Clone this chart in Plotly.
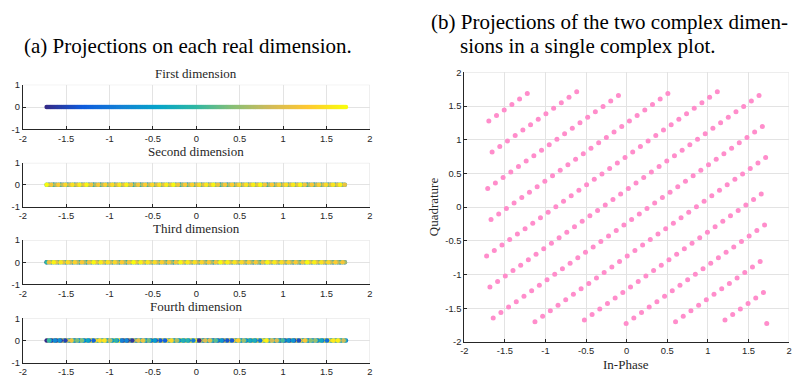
import math
import plotly.graph_objects as go

# ---------------- data (levels of a 256-point uniform grid on [-sqrt3, sqrt3]) -------------
N_LEVELS = 256

IN_PHASE_LEVEL = [
    0, 1, 2, 3, 4, 5, 6, 7, 8, 9, 10, 11, 12, 13, 14, 15,
    16, 17, 18, 19, 20, 21, 22, 23, 24, 25, 26, 27, 28, 29, 30, 31,
    32, 33, 34, 35, 36, 37, 38, 39, 40, 41, 42, 43, 44, 45, 46, 47,
    48, 49, 50, 51, 52, 53, 54, 55, 56, 57, 58, 59, 60, 61, 62, 63,
    64, 65, 66, 67, 68, 69, 70, 71, 72, 73, 74, 75, 76, 77, 78, 79,
    80, 81, 82, 83, 84, 85, 86, 87, 88, 89, 90, 91, 92, 93, 94, 95,
    96, 97, 98, 99, 100, 101, 102, 103, 104, 105, 106, 107, 108, 109, 110, 111,
    112, 113, 114, 115, 116, 117, 118, 119, 120, 121, 122, 123, 124, 125, 126, 127,
    128, 129, 130, 131, 132, 133, 134, 135, 136, 137, 138, 139, 140, 141, 142, 143,
    144, 145, 146, 147, 148, 149, 150, 151, 152, 153, 154, 155, 156, 157, 158, 159,
    160, 161, 162, 163, 164, 165, 166, 167, 168, 169, 170, 171, 172, 173, 174, 175,
    176, 177, 178, 179, 180, 181, 182, 183, 184, 185, 186, 187, 188, 189, 190, 191,
    192, 193, 194, 195, 196, 197, 198, 199, 200, 201, 202, 203, 204, 205, 206, 207,
    208, 209, 210, 211, 212, 213, 214, 215, 216, 217, 218, 219, 220, 221, 222, 223,
    224, 225, 226, 227, 228, 229, 230, 231, 232, 233, 234, 235, 236, 237, 238, 239,
    240, 241, 242, 243, 244, 245, 246, 247, 248, 249, 250, 251, 252, 253, 254, 255,
]

QUADRATURE_LEVEL = [
    74, 148, 222, 40, 114, 188, 6, 80, 154, 228, 46, 120, 194, 12, 86, 160,
    234, 52, 126, 200, 18, 92, 166, 240, 58, 132, 206, 24, 98, 172, 246, 64,
    138, 212, 30, 104, 178, 252, 70, 144, 218, 36, 110, 184, 2, 76, 150, 224,
    42, 116, 190, 8, 82, 156, 230, 48, 122, 196, 14, 88, 162, 236, 54, 128,
    202, 20, 94, 168, 242, 60, 134, 208, 26, 100, 174, 248, 66, 140, 214, 32,
    106, 180, 254, 72, 146, 220, 38, 112, 186, 4, 78, 152, 226, 44, 118, 192,
    10, 84, 158, 232, 50, 124, 198, 16, 90, 164, 238, 56, 130, 204, 22, 96,
    170, 244, 62, 136, 210, 28, 102, 176, 250, 68, 142, 216, 34, 108, 182, 0,
    74, 148, 222, 40, 114, 188, 6, 80, 154, 228, 46, 120, 194, 12, 86, 160,
    234, 52, 126, 200, 18, 92, 166, 240, 58, 132, 206, 24, 98, 172, 246, 64,
    138, 212, 30, 104, 178, 252, 70, 144, 218, 36, 110, 184, 2, 76, 150, 224,
    42, 116, 190, 8, 82, 156, 230, 48, 122, 196, 14, 88, 162, 236, 54, 128,
    202, 20, 94, 168, 242, 60, 134, 208, 26, 100, 174, 248, 66, 140, 214, 32,
    106, 180, 254, 72, 146, 220, 38, 112, 186, 4, 78, 152, 226, 44, 118, 192,
    10, 84, 158, 232, 50, 124, 198, 16, 90, 164, 238, 56, 130, 204, 22, 96,
    170, 244, 62, 136, 210, 28, 102, 176, 250, 68, 142, 216, 34, 108, 182, 0,
]

# third real dimension: same level set as the quadrature, taken in reverse point order
DIM3_LEVEL = QUADRATURE_LEVEL[::-1]

# fourth real dimension (estimated interleaving of the 256 levels)
DIM4_LEVEL = [
    0, 65, 130, 195, 4, 69, 134, 199, 8, 73, 138, 203, 12, 77, 142, 207,
    16, 81, 146, 211, 20, 85, 150, 215, 24, 89, 154, 219, 28, 93, 158, 223,
    32, 97, 162, 227, 36, 101, 166, 231, 40, 105, 170, 235, 44, 109, 174, 239,
    48, 113, 178, 243, 52, 117, 182, 247, 56, 121, 186, 251, 60, 125, 190, 255,
    64, 129, 194, 3, 68, 133, 198, 7, 72, 137, 202, 11, 76, 141, 206, 15,
    80, 145, 210, 19, 84, 149, 214, 23, 88, 153, 218, 27, 92, 157, 222, 31,
    96, 161, 226, 35, 100, 165, 230, 39, 104, 169, 234, 43, 108, 173, 238, 47,
    112, 177, 242, 51, 116, 181, 246, 55, 120, 185, 250, 59, 124, 189, 254, 63,
    128, 193, 2, 67, 132, 197, 6, 71, 136, 201, 10, 75, 140, 205, 14, 79,
    144, 209, 18, 83, 148, 213, 22, 87, 152, 217, 26, 91, 156, 221, 30, 95,
    160, 225, 34, 99, 164, 229, 38, 103, 168, 233, 42, 107, 172, 237, 46, 111,
    176, 241, 50, 115, 180, 245, 54, 119, 184, 249, 58, 123, 188, 253, 62, 127,
    192, 1, 66, 131, 196, 5, 70, 135, 200, 9, 74, 139, 204, 13, 78, 143,
    208, 17, 82, 147, 212, 21, 86, 151, 216, 25, 90, 155, 220, 29, 94, 159,
    224, 33, 98, 163, 228, 37, 102, 167, 232, 41, 106, 171, 236, 45, 110, 175,
    240, 49, 114, 179, 244, 53, 118, 183, 248, 57, 122, 187, 252, 61, 126, 191,
]

POINT_INDEX = IN_PHASE_LEVEL  # colour = point index

SUBPLOT_TITLES = ["First dimension", "Second dimension", "Third dimension", "Fourth dimension"]
X_TICKS = [-2, -1.5, -1, -0.5, 0, 0.5, 1, 1.5, 2]
X_TICK_TEXT = ["-2", "-1.5", "-1", "-0.5", "0", "0.5", "1", "1.5", "2"]
Y_TICKS_SMALL = [-1, 0, 1]
Y_TICK_TEXT_SMALL = ["-1", "0", "1"]
Y_TICKS_BIG = [-2, -1.5, -1, -0.5, 0, 0.5, 1, 1.5, 2]
Y_TICK_TEXT_BIG = ["-2", "-1.5", "-1", "-0.5", "0", "0.5", "1", "1.5", "2"]


def level_to_value(lvl):
    return math.sqrt(3) * (2 * lvl + 1 - N_LEVELS) / N_LEVELS


PARULA = [
    [0.0, "#352a87"], [0.125, "#0f5cdd"], [0.25, "#1481d6"], [0.375, "#06a4ca"],
    [0.5, "#2eb7a4"], [0.625, "#87bf77"], [0.75, "#d1bb59"], [0.875, "#fec832"],
    [1.0, "#f9fb0e"],
]

# drawing order of the points in each real-dimension strip
DRAW_ORDER = [
    list(range(len(IN_PHASE_LEVEL))),
    list(range(len(IN_PHASE_LEVEL))),
    list(range(len(IN_PHASE_LEVEL))),
    sorted(range(len(IN_PHASE_LEVEL)), key=lambda k: QUADRATURE_LEVEL[k]),
]

# ---------------- layout helpers ----------------
W, H = 796, 383


def xdom(a, b):
    return [a / W, b / W]


def ydom(top, bottom):
    return [1 - bottom / H, 1 - top / H]


AX_COL = "#262626"
GRID_COL = "#e3e3e3"
TICK_FONT = dict(family="Liberation Sans, Arial, sans-serif", size=9.4, color=AX_COL)
SERIF = "Liberation Serif, Times New Roman, serif"
MARKER_SIZE = 4.6

fig = go.Figure()

left_rows = [(81, 127), (161.5, 206.7), (241, 286.7), (321.5, 367.3)]
left_x = (19, 369)
dims = [IN_PHASE_LEVEL, QUADRATURE_LEVEL, DIM3_LEVEL, DIM4_LEVEL]

layout = dict(
    width=W, height=H, margin=dict(l=0, r=0, t=0, b=0),
    paper_bgcolor="white", plot_bgcolor="white", showlegend=False,
)
annotations = []
shapes = []

for i, (top, bot) in enumerate(left_rows):
    n = i + 1
    xa = "x" if n == 1 else f"x{n}"
    ya = "y" if n == 1 else f"y{n}"
    order = DRAW_ORDER[i]
    fig.add_trace(go.Scatter(
        x=[level_to_value(dims[i][k]) for k in order],
        y=[0] * len(order),
        mode="markers",
        marker=dict(size=MARKER_SIZE, color=[POINT_INDEX[k] for k in order],
                    colorscale=PARULA, cmin=0, cmax=255, line=dict(width=0)),
        xaxis=xa, yaxis=ya, hoverinfo="skip",
    ))
    layout[f"xaxis{'' if n == 1 else n}"] = dict(
        domain=xdom(*left_x), anchor=ya, range=[-2, 2],
        tickvals=X_TICKS, ticktext=X_TICK_TEXT, tickfont=TICK_FONT,
        showgrid=True, gridcolor=GRID_COL, gridwidth=1, zeroline=False,
        showline=True, linecolor=AX_COL, linewidth=1,
        ticks="inside", ticklen=3, tickcolor=AX_COL, tickwidth=1,
    )
    layout[f"yaxis{'' if n == 1 else n}"] = dict(
        domain=ydom(top, bot), anchor=xa, range=[-1, 1],
        tickvals=Y_TICKS_SMALL, ticktext=Y_TICK_TEXT_SMALL, tickfont=TICK_FONT,
        showgrid=True, gridcolor=GRID_COL, gridwidth=1, zeroline=False,
        showline=True, linecolor=AX_COL, linewidth=1,
        ticks="inside", ticklen=3, tickcolor=AX_COL, tickwidth=1,
    )
    shapes.append(dict(type="line", xref=xa, yref=ya, x0=-2, x1=2, y0=1, y1=1,
                       line=dict(color=GRID_COL, width=1), layer="below"))
    shapes.append(dict(type="line", xref=xa, yref=ya, x0=2, x1=2, y0=-1, y1=1,
                       line=dict(color=GRID_COL, width=1), layer="below"))
    annotations.append(dict(
        text=SUBPLOT_TITLES[i], x=(left_x[0] + left_x[1]) / 2 / W, y=1 - (top - 12) / H,
        xref="paper", yref="paper", xanchor="center", yanchor="middle", showarrow=False,
        font=dict(family=SERIF, size=13, color=AX_COL),
    ))

# right complex plot
fig.add_trace(go.Scatter(
    x=[level_to_value(l) for l in IN_PHASE_LEVEL],
    y=[level_to_value(l) for l in QUADRATURE_LEVEL],
    mode="markers",
    marker=dict(size=MARKER_SIZE + 0.4, color="#ff8dcb", line=dict(width=0)),
    xaxis="x5", yaxis="y5", hoverinfo="skip",
))
layout["xaxis5"] = dict(
    domain=xdom(464.4, 792), anchor="y5", range=[-2, 2],
    tickvals=X_TICKS, ticktext=X_TICK_TEXT, tickfont=TICK_FONT,
    showgrid=True, gridcolor=GRID_COL, gridwidth=1, zeroline=False,
    showline=True, linecolor=AX_COL, linewidth=1,
    ticks="inside", ticklen=3, tickcolor=AX_COL, tickwidth=1,
)
layout["yaxis5"] = dict(
    domain=ydom(68.3, 346), anchor="x5", range=[-2, 2],
    tickvals=Y_TICKS_BIG, ticktext=Y_TICK_TEXT_BIG, tickfont=TICK_FONT,
    showgrid=True, gridcolor=GRID_COL, gridwidth=1, zeroline=False,
    showline=True, linecolor=AX_COL, linewidth=1,
    ticks="inside", ticklen=3, tickcolor=AX_COL, tickwidth=1,
)
shapes.append(dict(type="line", xref="x5", yref="y5", x0=-2, x1=2, y0=2, y1=2,
                   line=dict(color=GRID_COL, width=1), layer="below"))
shapes.append(dict(type="line", xref="x5", yref="y5", x0=2, x1=2, y0=-2, y1=2,
                   line=dict(color=GRID_COL, width=1), layer="below"))

annotations += [
    dict(text="Quadrature", x=433 / W, y=1 - 207 / H, xref="paper", yref="paper",
         textangle=-90, showarrow=False, xanchor="center", yanchor="middle",
         font=dict(family=SERIF, size=13, color=AX_COL)),
    dict(text="In-Phase", x=628 / W, y=1 - 369 / H, xref="paper", yref="paper",
         showarrow=False, xanchor="center", yanchor="middle",
         font=dict(family=SERIF, size=13, color=AX_COL)),
    dict(text="(a) Projections on each real dimension.", x=186 / W, y=1 - 41.5 / H,
         xref="paper", yref="paper", showarrow=False, xanchor="center", yanchor="middle",
         font=dict(family=SERIF, size=21, color="black")),
    dict(text="(b) Projections of the two complex dimen-", x=429 / W, y=1 - 16.5 / H,
         xref="paper", yref="paper", showarrow=False, xanchor="left", yanchor="middle",
         font=dict(family=SERIF, size=21, color="black")),
    dict(text="sions in a single complex plot.", x=458 / W, y=1 - 41.5 / H,
         xref="paper", yref="paper", showarrow=False, xanchor="left", yanchor="middle",
         font=dict(family=SERIF, size=21, color="black")),
]

layout["annotations"] = annotations
layout["shapes"] = shapes
fig.update_layout(**layout)
fig.write_html("out.html")
